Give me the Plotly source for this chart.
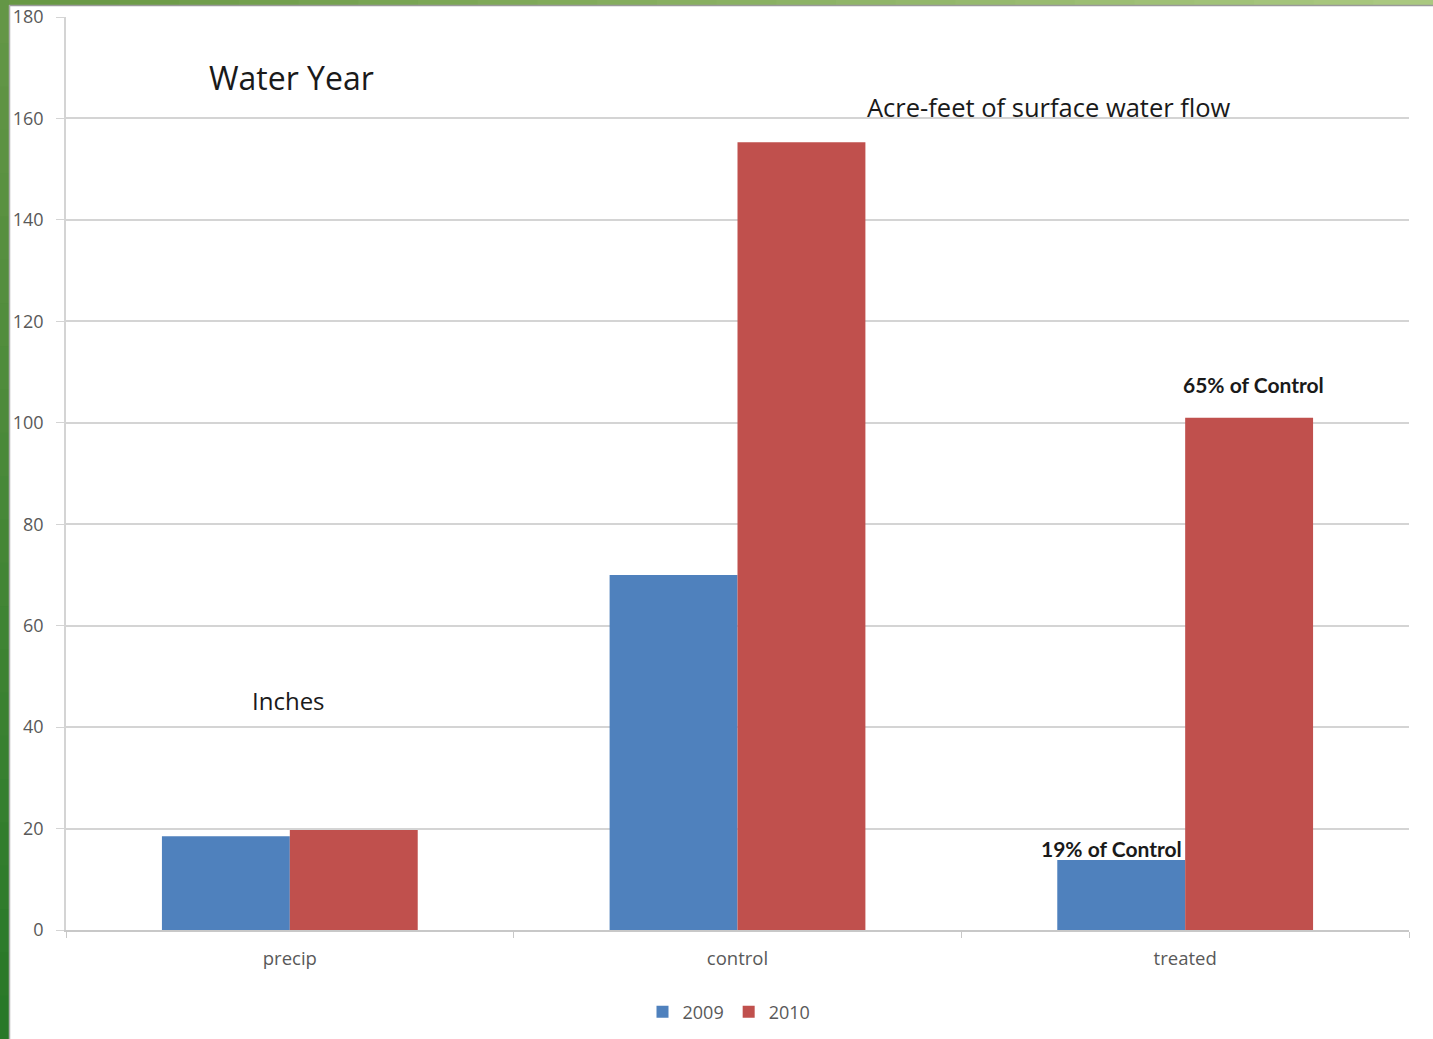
import plotly.graph_objects as go

categories = ["precip", "control", "treated"]
series_names = ["2009", "2010"]
values_2009 = [18.5, 70.0, 13.8]
values_2010 = [19.7, 155.3, 101.0]
colors = ["#4f81bd", "#c0504d"]
y_ticks = [0, 20, 40, 60, 80, 100, 120, 140, 160, 180]

W, H = 1433, 1039
L, R, T, B = 66, 24, 17, 109
pw, ph = W - L - R, H - T - B

def px(x):
    return (x - L) / pw

def py(y):
    return (H - B - y) / ph

fig = go.Figure()
for name, vals, c in zip(series_names, [values_2009, values_2010], colors):
    fig.add_trace(go.Bar(name=name, x=categories, y=vals, marker=dict(color=c, line=dict(width=0))))

shapes = []
n = 24
def lerp(c1, c2, t):
    return "rgb(%d,%d,%d)" % tuple(round(a + (b - a) * t) for a, b in zip(c1, c2))
for i in range(n):
    x0 = W * i / n
    x1 = W * (i + 1) / n + 1
    shapes.append(dict(type="rect", xref="paper", yref="paper", x0=px(x0), x1=px(x1), y0=py(5), y1=py(0),
                       fillcolor=lerp((104, 152, 68), (170, 200, 128), i / (n - 1)), line=dict(width=0), layer="above"))
for i in range(n):
    y0 = H * i / n
    y1 = H * (i + 1) / n + 1
    shapes.append(dict(type="rect", xref="paper", yref="paper", x0=px(0), x1=px(9), y0=py(y1), y1=py(y0),
                       fillcolor=lerp((100, 150, 70), (40, 120, 40), i / (n - 1)), line=dict(width=0), layer="above"))
shapes.append(dict(type="line", xref="paper", yref="paper", x0=px(9), x1=px(W), y0=py(5.5), y1=py(5.5),
                   line=dict(color="#9a9a9a", width=1.5), layer="above"))
shapes.append(dict(type="line", xref="paper", yref="paper", x0=px(9.5), x1=px(9.5), y0=py(5), y1=py(H),
                   line=dict(color="#b0b0b0", width=1.5), layer="above"))

ann_font = "Open Sans, Lato, sans-serif"
def ann(text, x, y, size, family=ann_font, xanchor="left"):
    return dict(text=text, x=px(x), y=py(y), xref="paper", yref="paper", xanchor=xanchor, yanchor="middle",
                showarrow=False, font=dict(family=family, size=size, color="#1a1a1a"))

annotations = [
    ann("Water Year", 207, 78, 32),
    ann("Acre-feet of surface water flow", 865, 107, 25.5),
    ann("Inches", 288, 700, 24, xanchor="center"),
    ann("<b>65% of Control</b>", 1253, 384, 21, family="Lato, sans-serif", xanchor="center"),
    ann("<b>19% of Control</b>", 1111, 848, 21, family="Lato, sans-serif", xanchor="center"),
]

fig.update_layout(
    width=W, height=H,
    margin=dict(l=L, r=R, t=T, b=B, pad=0, autoexpand=False),
    paper_bgcolor="white", plot_bgcolor="white",
    barmode="group", bargap=0.4286, bargroupgap=0,
    font=dict(family="Open Sans, sans-serif", size=14, color="#595959"),
    showlegend=True,
    legend=dict(orientation="h", xref="container", yref="container", x=729 / W, y=1 - 1012 / H,
                xanchor="center", yanchor="middle",
                font=dict(size=18, color="#595959"), itemwidth=30, traceorder="normal"),
    shapes=shapes,
    annotations=annotations,
)
fig.update_xaxes(type="category", showgrid=False, showline=True, linecolor="#c8c8c8", linewidth=1.5,
                 ticks="outside", tickson="boundaries", ticklen=6, tickcolor="#c8c8c8",
                 ticklabelstandoff=11,
                 tickfont=dict(size=18.5, color="#595959"))
fig.update_yaxes(range=[0, 180], tickvals=y_ticks, showgrid=True, gridcolor="#d4d4d4", gridwidth=1.5,
                 showline=True, linecolor="#d4d4d4", linewidth=1.5, ticks="outside", ticklen=8, tickcolor="#d4d4d4",
                 zeroline=False, ticklabelstandoff=9, tickfont=dict(size=18, color="#595959"))

fig.write_html("out.html")
